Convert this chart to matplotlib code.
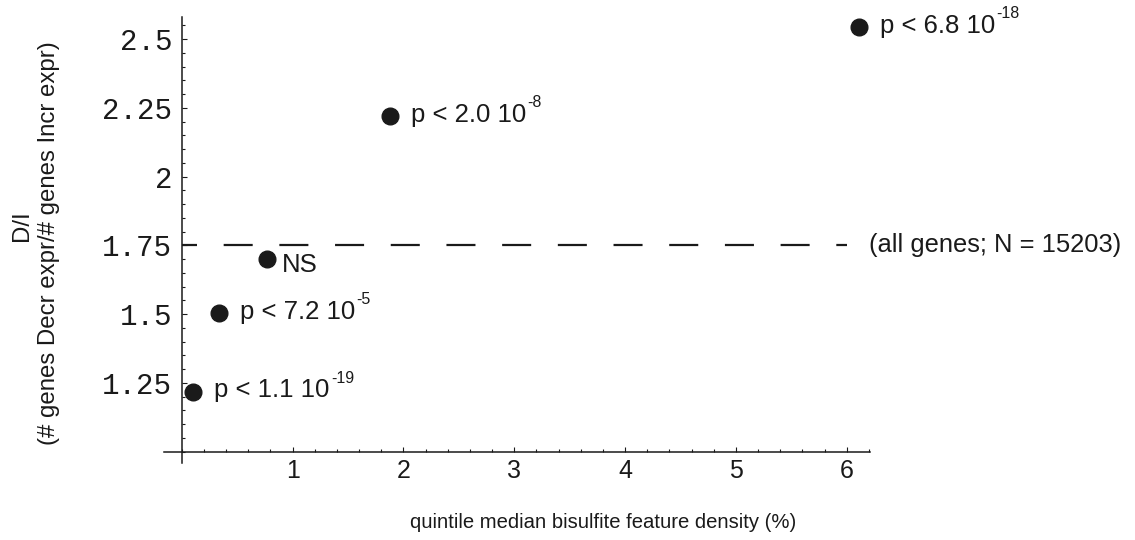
import matplotlib
matplotlib.use("Agg")
import matplotlib.pyplot as plt
from matplotlib.ticker import MultipleLocator, FixedLocator, FixedFormatter

# data
x_vals = [0.105, 0.337, 0.767, 1.879, 6.11]
y_vals = [1.218, 1.503, 1.700, 2.220, 2.544]
p_main = ["p < 1.1 10", "p < 7.2 10", "NS", "p < 2.0 10", "p < 6.8 10"]
p_exp = ["-19", "-5", "", "-8", "-18"]

all_genes_ratio = 1.75
all_genes_span = [0, 6]
all_genes_label = "(all genes; N = 15203)"

x_ticks = [1, 2, 3, 4, 5, 6]
y_ticks = [1.25, 1.5, 1.75, 2, 2.25, 2.5]
y_tick_labels = ["1.25", "1.5", "1.75", "2", "2.25", "2.5"]

plt.rcParams["lines.scale_dashes"] = False
sans = "Liberation Sans"
ink = "#1a1a1a"

fig = plt.figure(figsize=(11.35, 5.4), dpi=100)
ax = fig.add_axes([0.1445, 0.1426, 0.7665 - 0.1445, 0.969 - 0.1426])
ax.set_xlim(-0.16, 6.21)
ax.set_ylim(0.959, 2.581)

# axes cross at (0, 1) like the original
for s in ["top", "right"]:
    ax.spines[s].set_visible(False)
ax.spines["left"].set_position(("data", 0))
ax.spines["bottom"].set_position(("data", 1))
for s in ["left", "bottom"]:
    ax.spines[s].set_linewidth(1.1)
    ax.spines[s].set_color(ink)

ax.xaxis.set_major_locator(FixedLocator(x_ticks))
ax.xaxis.set_minor_locator(MultipleLocator(0.2))
ax.yaxis.set_major_locator(FixedLocator(y_ticks))
ax.yaxis.set_major_formatter(FixedFormatter(y_tick_labels))
ax.yaxis.set_minor_locator(MultipleLocator(0.05))
ax.tick_params(which="both", direction="in", color=ink, width=0.8)
ax.tick_params(which="major", length=3.6)
ax.tick_params(which="minor", length=2.2)
ax.tick_params(axis="x", pad=5, labelsize=18, labelcolor=ink)
ax.tick_params(axis="y", pad=7, labelsize=21, labelcolor=ink)
for t in ax.get_xticklabels():
    t.set_fontfamily(sans)
for t in ax.get_yticklabels():
    t.set_fontfamily("Liberation Mono")

# reference line for all genes
ax.plot(all_genes_span, [all_genes_ratio, all_genes_ratio], color=ink, lw=1.6,
        linestyle=(10.1, (20.9, 19.2)), dash_capstyle="butt")
ax.text(6.2, all_genes_ratio, all_genes_label, fontsize=18.4, family=sans,
        color=ink, va="center", ha="left", clip_on=False)

# quintile points
ax.plot(x_vals, y_vals, "o", color=ink, ms=12, clip_on=False, zorder=3)

for i in range(len(x_vals)):
    dy = -4 if p_main[i] == "NS" else 1
    dx = 11 if p_main[i] == "NS" else 15
    t = ax.annotate(p_main[i], (x_vals[i], y_vals[i]), xytext=(dx, dy),
                    textcoords="offset points", fontsize=18.5, family=sans,
                    color=ink, va="center", ha="left", annotation_clip=False)
    if p_exp[i]:
        ax.annotate(p_exp[i], xy=(1, 0.7), xycoords=t, xytext=(1, 0),
                    textcoords="offset points", fontsize=11.5, family=sans,
                    color=ink, va="bottom", ha="left", annotation_clip=False)

fig.text(603 / 1135, 1 - 523 / 540, "quintile median bisulfite feature density (%)",
         fontsize=14.6, family=sans, color=ink, ha="center", va="center")
fig.text(22 / 1135, 1 - 226 / 540, "D/I", fontsize=17.3, family=sans, color=ink,
         rotation=90, ha="center", va="center")
fig.text(49 / 1135, 1 - 243 / 540, "(# genes Decr expr/# genes Incr expr)",
         fontsize=17.3, family=sans, color=ink, rotation=90, ha="center", va="center")

fig.savefig("out.png", dpi=100)
